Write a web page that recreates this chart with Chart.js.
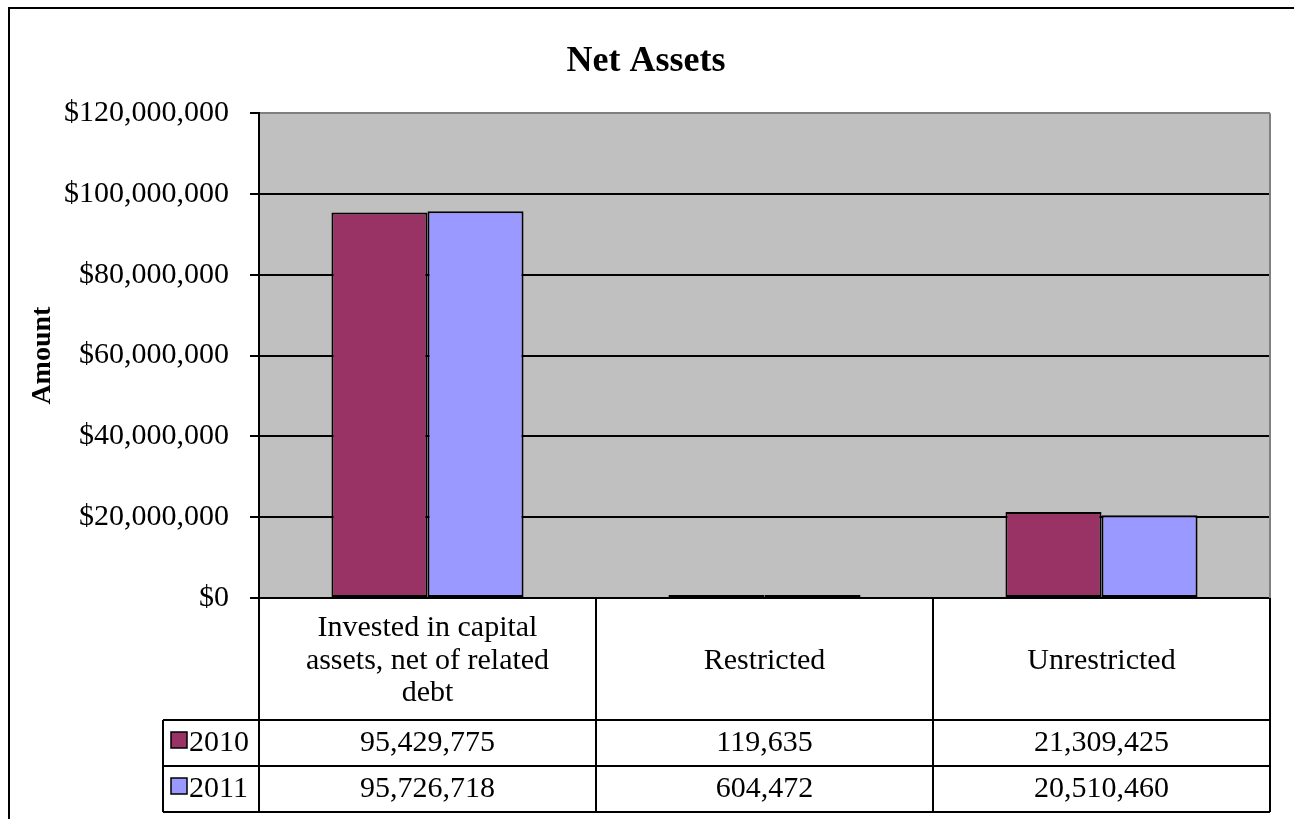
<!DOCTYPE html>
<html>
<head>
<meta charset="utf-8">
<script src="https://cdn.jsdelivr.net/npm/chart.js"></script>
<style>
  html, body { margin: 0; padding: 0; background: #fff; }
  #wrap { position: relative; width: 1294px; height: 819px; }
</style>
</head>
<body>
<div id="wrap"><canvas id="chart"></canvas></div>
<script>
const SERIF = "'Liberation Serif', 'Times New Roman', serif";

const categories = [
  ['Invested in capital', 'assets, net of related', 'debt'],
  ['Restricted'],
  ['Unrestricted']
];
const seriesNames = ['2010', '2011'];
const values2010 = [95429775, 119635, 21309425];
const values2011 = [95726718, 604472, 20510460];
const yTicks = [0, 20000000, 40000000, 60000000, 80000000, 100000000, 120000000];

const fmtNum = v => v.toLocaleString('en-US');

// Rahmen + grauer Plotbereich
const frame = {
  id: 'frame',
  beforeDraw(chart) {
    const { ctx, chartArea: a } = chart;
    ctx.save();
    ctx.fillStyle = '#fff';
    ctx.fillRect(0, 0, chart.width, chart.height);
    ctx.strokeStyle = '#000';
    ctx.lineWidth = 2;
    ctx.strokeRect(9, 8, 3000, 3000);
    ctx.fillStyle = '#C0C0C0';
    ctx.fillRect(a.left, a.top, a.right - a.left, a.bottom - a.top);
    ctx.restore();
  },
  afterDatasetsDraw(chart) {
    const { ctx, chartArea: a } = chart;
    ctx.save();
    ctx.strokeStyle = '#808080';
    ctx.lineWidth = 2;
    ctx.beginPath();
    ctx.moveTo(a.right, a.top);
    ctx.lineTo(a.right, a.bottom);
    ctx.stroke();
    ctx.restore();
  }
};

// Datentabelle unter dem Diagramm
const dataTable = {
  id: 'dataTable',
  afterDraw(chart) {
    const { ctx, chartArea: a, scales } = chart;
    const x = scales.x;
    const n = chart.data.labels.length;
    const half = (x.getPixelForValue(1) - x.getPixelForValue(0)) / 2;
    const headBottom = a.bottom + 122;
    const rowH = 46;
    const legendLeft = 163;
    const rows = chart.data.datasets;
    const tableBottom = headBottom + rowH * rows.length;

    ctx.save();
    ctx.strokeStyle = '#000';
    ctx.lineWidth = 2;
    ctx.beginPath();
    // horizontale Linien
    for (let r = 0; r <= rows.length; r++) {
      const y = headBottom + r * rowH;
      ctx.moveTo(legendLeft, y);
      ctx.lineTo(a.right, y);
    }
    // vertikale Linien
    ctx.moveTo(legendLeft, headBottom);
    ctx.lineTo(legendLeft, tableBottom);
    for (let i = 0; i <= n; i++) {
      const px = i < n ? x.getPixelForValue(i) - half : a.right;
      ctx.moveTo(px, a.bottom);
      ctx.lineTo(px, tableBottom);
    }
    ctx.stroke();

    ctx.fillStyle = '#000';
    ctx.font = '30px ' + SERIF;
    ctx.textAlign = 'center';
    ctx.textBaseline = 'middle';
    const midHead = (a.bottom + headBottom) / 2 + 2;
    chart.data.labels.forEach((lines, i) => {
      const cx = x.getPixelForValue(i);
      const lh = 32.5;
      lines.forEach((t, k) => {
        ctx.fillText(t, cx, midHead + (k - (lines.length - 1) / 2) * lh);
      });
    });

    rows.forEach((ds, r) => {
      const cy = headBottom + r * rowH + rowH / 2;
      // Legendensymbol
      ctx.fillStyle = ds.backgroundColor;
      ctx.fillRect(171, cy - 11, 16, 16);
      ctx.strokeStyle = '#000';
      ctx.lineWidth = 1.5;
      ctx.strokeRect(171, cy - 11, 16, 16);
      ctx.fillStyle = '#000';
      ctx.textAlign = 'left';
      ctx.fillText(ds.label, 189, cy);
      ctx.textAlign = 'center';
      ds.data.forEach((v, i) => {
        ctx.fillText(fmtNum(v), x.getPixelForValue(i), cy);
      });
    });
    ctx.restore();
  }
};

new Chart(document.getElementById('chart'), {
  type: 'bar',
  data: {
    labels: categories,
    datasets: [
      {
        label: seriesNames[0],
        data: values2010,
        backgroundColor: '#993366',
        borderColor: '#000',
        borderWidth: 2,
        borderSkipped: false,
        minBarLength: 3
      },
      {
        label: seriesNames[1],
        data: values2011,
        backgroundColor: '#9999FF',
        borderColor: '#000',
        borderWidth: 2,
        borderSkipped: false,
        minBarLength: 3
      }
    ]
  },
  options: {
    responsive: true,
    maintainAspectRatio: false,
    animation: false,
    barPercentage: 1,
    categoryPercentage: 0.57,
    layout: { padding: { top: 9, left: 22, right: 24, bottom: 221 } },
    plugins: {
      legend: { display: false },
      tooltip: { enabled: false },
      title: {
        display: true,
        text: 'Net Assets',
        color: '#000',
        font: { family: SERIF, size: 36, weight: 'bold' },
        padding: { top: 31, bottom: 30 }
      }
    },
    scales: {
      x: {
        ticks: { display: false },
        grid: { display: false },
        border: { display: true, color: '#000', width: 2 },
        afterFit: s => { s.height = 0; }
      },
      y: {
        min: 0,
        max: 120000000,
        afterBuildTicks: s => { s.ticks = yTicks.map(v => ({ value: v })); },
        afterFit: s => { s.width = 237; },
        ticks: {
          color: '#000',
          padding: 21,
          font: { family: SERIF, size: 30 },
          callback: v => '$' + fmtNum(v)
        },
        grid: {
          color: c => c.tick && c.tick.value === 120000000 ? '#808080' : '#000',
          tickColor: '#000',
          tickLength: 9,
          lineWidth: 2
        },
        border: { color: '#000', width: 2 },
        title: {
          display: true,
          text: 'Amount',
          color: '#000',
          font: { family: SERIF, size: 28, weight: 'bold' }
        }
      }
    }
  },
  plugins: [frame, dataTable]
});
</script>
</body>
</html>
